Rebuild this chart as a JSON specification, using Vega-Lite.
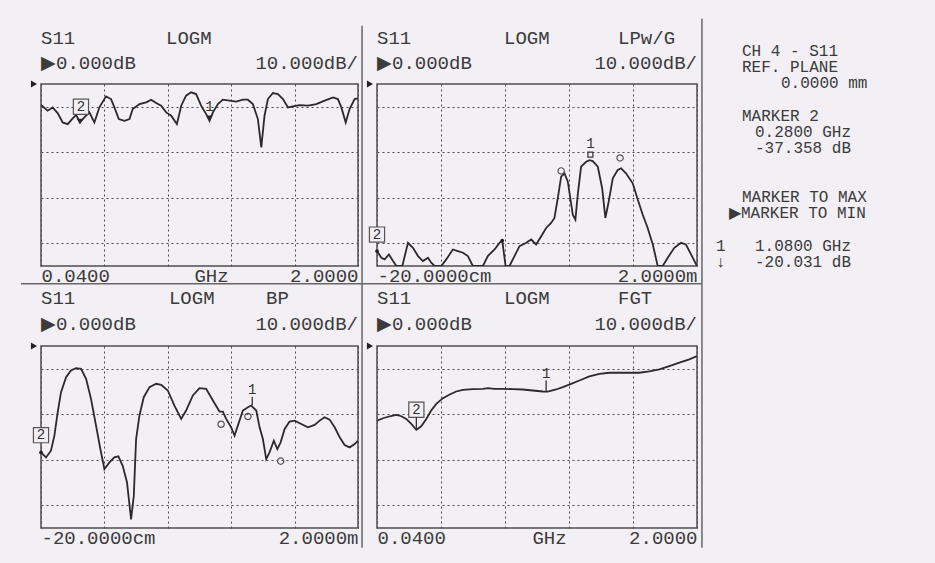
{
"$schema":"https://vega.github.io/schema/vega-lite/v6.json",
"background":"#f2eff5",
"padding":{"left":19,"top":17,"right":30,"bottom":20},
"config":{
 "view":{"stroke":"#4f4f4f","strokeWidth":1.5},
 "axis":{"domain":false,"ticks":false,"tickSize":0,"gridColor":"#4a4a4a","gridDash":[2,3],"gridWidth":1,"labelFont":"Liberation Mono","labelFontSize":19,"labelColor":"#3b3b3b","titleFont":"Liberation Mono","titleFontSize":19,"titleFontWeight":"normal","titleColor":"#3b3b3b","labelOverlap":false,"labelFlush":true,"labelBaseline":"alphabetic","labelPadding":15},
 "text":{"font":"Liberation Mono","fontSize":19,"color":"#3b3b3b","baseline":"middle"}
},
"datasets":{
 "p1":[{"freq_ghz":0.040,"s11_db":-9.25},{"freq_ghz":0.081,"s11_db":-11.75},{"freq_ghz":0.112,"s11_db":-10.28},{"freq_ghz":0.143,"s11_db":-12.78},{"freq_ghz":0.174,"s11_db":-16.89},{"freq_ghz":0.205,"s11_db":-17.62},{"freq_ghz":0.236,"s11_db":-15.12},{"freq_ghz":0.257,"s11_db":-13.66},{"freq_ghz":0.281,"s11_db":-16.89},{"freq_ghz":0.308,"s11_db":-14.68},{"freq_ghz":0.339,"s11_db":-12.48},{"freq_ghz":0.370,"s11_db":-16.89},{"freq_ghz":0.401,"s11_db":-10.28},{"freq_ghz":0.442,"s11_db":-5.43},{"freq_ghz":0.473,"s11_db":-6.61},{"freq_ghz":0.494,"s11_db":-10.28},{"freq_ghz":0.521,"s11_db":-15.42},{"freq_ghz":0.556,"s11_db":-16.15},{"freq_ghz":0.587,"s11_db":-15.42},{"freq_ghz":0.607,"s11_db":-11.01},{"freq_ghz":0.649,"s11_db":-8.81},{"freq_ghz":0.690,"s11_db":-8.08},{"freq_ghz":0.721,"s11_db":-6.90},{"freq_ghz":0.752,"s11_db":-8.37},{"freq_ghz":0.783,"s11_db":-9.54},{"freq_ghz":0.814,"s11_db":-12.48},{"freq_ghz":0.845,"s11_db":-13.95},{"freq_ghz":0.880,"s11_db":-17.62},{"freq_ghz":0.907,"s11_db":-9.54},{"freq_ghz":0.937,"s11_db":-5.14},{"freq_ghz":0.968,"s11_db":-3.67},{"freq_ghz":0.999,"s11_db":-4.41},{"freq_ghz":1.030,"s11_db":-9.54},{"freq_ghz":1.061,"s11_db":-13.22},{"freq_ghz":1.082,"s11_db":-16.15},{"freq_ghz":1.103,"s11_db":-12.48},{"freq_ghz":1.134,"s11_db":-8.81},{"freq_ghz":1.164,"s11_db":-6.90},{"freq_ghz":1.206,"s11_db":-7.34},{"freq_ghz":1.247,"s11_db":-7.78},{"freq_ghz":1.288,"s11_db":-6.90},{"freq_ghz":1.319,"s11_db":-6.90},{"freq_ghz":1.350,"s11_db":-8.81},{"freq_ghz":1.381,"s11_db":-15.42},{"freq_ghz":1.402,"s11_db":-27.90},{"freq_ghz":1.422,"s11_db":-13.95},{"freq_ghz":1.443,"s11_db":-6.61},{"freq_ghz":1.474,"s11_db":-3.96},{"freq_ghz":1.505,"s11_db":-4.41},{"freq_ghz":1.536,"s11_db":-6.61},{"freq_ghz":1.567,"s11_db":-10.28},{"freq_ghz":1.598,"s11_db":-9.84},{"freq_ghz":1.639,"s11_db":-9.25},{"freq_ghz":1.691,"s11_db":-9.54},{"freq_ghz":1.742,"s11_db":-8.81},{"freq_ghz":1.794,"s11_db":-7.34},{"freq_ghz":1.845,"s11_db":-5.87},{"freq_ghz":1.876,"s11_db":-6.61},{"freq_ghz":1.897,"s11_db":-10.28},{"freq_ghz":1.924,"s11_db":-16.89},{"freq_ghz":1.948,"s11_db":-11.01},{"freq_ghz":1.979,"s11_db":-6.61},{"freq_ghz":2.000,"s11_db":-6.31}],
 "p2":[{"dist_m":-0.200,"s11_db":-73.45},{"dist_m":-0.170,"s11_db":-76.36},{"dist_m":-0.147,"s11_db":-77.09},{"dist_m":-0.118,"s11_db":-74.91},{"dist_m":-0.090,"s11_db":-77.82},{"dist_m":-0.067,"s11_db":-80},{"dist_m":-0.026,"s11_db":-80},{"dist_m":0.013,"s11_db":-69.82},{"dist_m":0.047,"s11_db":-72.0},{"dist_m":0.082,"s11_db":-75.64},{"dist_m":0.116,"s11_db":-77.82},{"dist_m":0.150,"s11_db":-76.36},{"dist_m":0.173,"s11_db":-78.55},{"dist_m":0.196,"s11_db":-80},{"dist_m":0.242,"s11_db":-80},{"dist_m":0.276,"s11_db":-77.09},{"dist_m":0.322,"s11_db":-72.73},{"dist_m":0.356,"s11_db":-73.45},{"dist_m":0.391,"s11_db":-74.18},{"dist_m":0.425,"s11_db":-75.64},{"dist_m":0.459,"s11_db":-80},{"dist_m":0.528,"s11_db":-80},{"dist_m":0.562,"s11_db":-75.64},{"dist_m":0.608,"s11_db":-72.73},{"dist_m":0.642,"s11_db":-69.82},{"dist_m":0.661,"s11_db":-68.8},{"dist_m":0.684,"s11_db":-80},{"dist_m":0.711,"s11_db":-80},{"dist_m":0.745,"s11_db":-75.64},{"dist_m":0.780,"s11_db":-71.27},{"dist_m":0.826,"s11_db":-69.82},{"dist_m":0.860,"s11_db":-68.36},{"dist_m":0.894,"s11_db":-70.55},{"dist_m":0.929,"s11_db":-66.91},{"dist_m":0.963,"s11_db":-63.27},{"dist_m":0.997,"s11_db":-61.09},{"dist_m":1.020,"s11_db":-58.91},{"dist_m":1.043,"s11_db":-50.18},{"dist_m":1.066,"s11_db":-40.73},{"dist_m":1.089,"s11_db":-39.27},{"dist_m":1.112,"s11_db":-42.91},{"dist_m":1.146,"s11_db":-57.45},{"dist_m":1.164,"s11_db":-59.64},{"dist_m":1.180,"s11_db":-48.73},{"dist_m":1.203,"s11_db":-36.36},{"dist_m":1.238,"s11_db":-34.18},{"dist_m":1.261,"s11_db":-33.45},{"dist_m":1.283,"s11_db":-33.89},{"dist_m":1.318,"s11_db":-36.36},{"dist_m":1.348,"s11_db":-45.82},{"dist_m":1.370,"s11_db":-58.91},{"dist_m":1.393,"s11_db":-51.64},{"dist_m":1.421,"s11_db":-41.45},{"dist_m":1.455,"s11_db":-37.82},{"dist_m":1.478,"s11_db":-37.09},{"dist_m":1.512,"s11_db":-39.27},{"dist_m":1.558,"s11_db":-43.64},{"dist_m":1.593,"s11_db":-50.91},{"dist_m":1.627,"s11_db":-57.45},{"dist_m":1.661,"s11_db":-63.27},{"dist_m":1.696,"s11_db":-70.55},{"dist_m":1.730,"s11_db":-80},{"dist_m":1.764,"s11_db":-80},{"dist_m":1.799,"s11_db":-76.36},{"dist_m":1.844,"s11_db":-72.0},{"dist_m":1.890,"s11_db":-69.82},{"dist_m":1.924,"s11_db":-70.55},{"dist_m":1.959,"s11_db":-74.91},{"dist_m":2.000,"s11_db":-80}],
 "p3":[{"dist_m":-0.200,"s11_db":-46.76},{"dist_m":-0.165,"s11_db":-48.97},{"dist_m":-0.131,"s11_db":-46.03},{"dist_m":-0.107,"s11_db":-39.41},{"dist_m":-0.084,"s11_db":-29.12},{"dist_m":-0.061,"s11_db":-20.29},{"dist_m":-0.026,"s11_db":-13.68},{"dist_m":0.008,"s11_db":-10.74},{"dist_m":0.043,"s11_db":-9.71},{"dist_m":0.078,"s11_db":-10.0},{"dist_m":0.113,"s11_db":-14.41},{"dist_m":0.147,"s11_db":-23.24},{"dist_m":0.182,"s11_db":-35.0},{"dist_m":0.212,"s11_db":-45.29},{"dist_m":0.240,"s11_db":-54.12},{"dist_m":0.275,"s11_db":-51.18},{"dist_m":0.309,"s11_db":-48.97},{"dist_m":0.337,"s11_db":-48.53},{"dist_m":0.367,"s11_db":-52.65},{"dist_m":0.397,"s11_db":-60.0},{"dist_m":0.425,"s11_db":-76.18},{"dist_m":0.444,"s11_db":-65.88},{"dist_m":0.460,"s11_db":-40.88},{"dist_m":0.483,"s11_db":-30.59},{"dist_m":0.513,"s11_db":-22.5},{"dist_m":0.553,"s11_db":-18.09},{"dist_m":0.599,"s11_db":-16.62},{"dist_m":0.634,"s11_db":-17.06},{"dist_m":0.680,"s11_db":-19.56},{"dist_m":0.726,"s11_db":-26.18},{"dist_m":0.773,"s11_db":-32.06},{"dist_m":0.807,"s11_db":-28.38},{"dist_m":0.854,"s11_db":-21.76},{"dist_m":0.900,"s11_db":-18.53},{"dist_m":0.946,"s11_db":-18.82},{"dist_m":0.993,"s11_db":-23.97},{"dist_m":1.039,"s11_db":-28.82},{"dist_m":1.062,"s11_db":-28.82},{"dist_m":1.085,"s11_db":-32.06},{"dist_m":1.120,"s11_db":-35.74},{"dist_m":1.143,"s11_db":-39.41},{"dist_m":1.166,"s11_db":-35.0},{"dist_m":1.201,"s11_db":-28.38},{"dist_m":1.236,"s11_db":-26.91},{"dist_m":1.259,"s11_db":-26.18},{"dist_m":1.294,"s11_db":-28.38},{"dist_m":1.317,"s11_db":-35.74},{"dist_m":1.340,"s11_db":-40.88},{"dist_m":1.363,"s11_db":-49.71},{"dist_m":1.386,"s11_db":-46.76},{"dist_m":1.416,"s11_db":-41.62},{"dist_m":1.440,"s11_db":-45.29},{"dist_m":1.463,"s11_db":-42.35},{"dist_m":1.491,"s11_db":-36.47},{"dist_m":1.525,"s11_db":-33.24},{"dist_m":1.560,"s11_db":-32.79},{"dist_m":1.606,"s11_db":-34.26},{"dist_m":1.653,"s11_db":-35.74},{"dist_m":1.699,"s11_db":-34.71},{"dist_m":1.734,"s11_db":-32.79},{"dist_m":1.768,"s11_db":-31.32},{"dist_m":1.803,"s11_db":-32.35},{"dist_m":1.838,"s11_db":-35.74},{"dist_m":1.873,"s11_db":-40.15},{"dist_m":1.907,"s11_db":-43.53},{"dist_m":1.942,"s11_db":-44.56},{"dist_m":1.977,"s11_db":-43.09},{"dist_m":2.000,"s11_db":-41.62}],
 "p4":[{"freq_ghz":0.040,"s11_db":-32.79},{"freq_ghz":0.077,"s11_db":-31.76},{"freq_ghz":0.118,"s11_db":-30.88},{"freq_ghz":0.158,"s11_db":-30.29},{"freq_ghz":0.189,"s11_db":-30.88},{"freq_ghz":0.219,"s11_db":-32.06},{"freq_ghz":0.250,"s11_db":-34.26},{"freq_ghz":0.281,"s11_db":-36.8},{"freq_ghz":0.311,"s11_db":-35.29},{"freq_ghz":0.342,"s11_db":-32.06},{"freq_ghz":0.372,"s11_db":-28.38},{"freq_ghz":0.403,"s11_db":-25.44},{"freq_ghz":0.444,"s11_db":-22.94},{"freq_ghz":0.485,"s11_db":-21.32},{"freq_ghz":0.525,"s11_db":-20.0},{"freq_ghz":0.566,"s11_db":-19.26},{"freq_ghz":0.627,"s11_db":-18.97},{"freq_ghz":0.689,"s11_db":-18.82},{"freq_ghz":0.719,"s11_db":-18.53},{"freq_ghz":0.760,"s11_db":-18.82},{"freq_ghz":0.811,"s11_db":-18.82},{"freq_ghz":0.872,"s11_db":-18.97},{"freq_ghz":0.933,"s11_db":-19.12},{"freq_ghz":0.994,"s11_db":-19.56},{"freq_ghz":1.056,"s11_db":-20.0},{"freq_ghz":1.086,"s11_db":-20.03},{"freq_ghz":1.137,"s11_db":-19.12},{"freq_ghz":1.178,"s11_db":-18.09},{"freq_ghz":1.229,"s11_db":-16.62},{"freq_ghz":1.280,"s11_db":-15.15},{"freq_ghz":1.341,"s11_db":-13.38},{"freq_ghz":1.402,"s11_db":-12.21},{"freq_ghz":1.464,"s11_db":-11.76},{"freq_ghz":1.525,"s11_db":-11.76},{"freq_ghz":1.586,"s11_db":-11.76},{"freq_ghz":1.647,"s11_db":-11.76},{"freq_ghz":1.708,"s11_db":-11.18},{"freq_ghz":1.769,"s11_db":-10.29},{"freq_ghz":1.831,"s11_db":-8.82},{"freq_ghz":1.892,"s11_db":-7.35},{"freq_ghz":1.953,"s11_db":-5.88},{"freq_ghz":2.000,"s11_db":-4.41}],
 "info":[{"row":0,"col":2,"text":"CH 4 - S11"},{"row":1,"col":2,"text":"REF. PLANE"},{"row":2,"col":5,"text":"0.0000 mm"},{"row":4,"col":2,"text":"MARKER 2"},{"row":5,"col":3,"text":"0.2800 GHz"},{"row":6,"col":3,"text":"-37.358 dB"},{"row":9,"col":2,"text":"MARKER TO MAX"},{"row":10,"col":1,"text":"▶MARKER TO MIN"},{"row":12,"col":0,"text":"1"},{"row":12,"col":3,"text":"1.0800 GHz"},{"row":13,"col":0,"text":"↓"},{"row":13,"col":3,"text":"-20.031 dB"}]
},
"bounds":"flush",
"align":"each",
"columns":3,
"spacing":{"row":80,"column":19},
"concat":[
   {"width":317,"height":182,"layer":[
    {"data":{"name":"p1"},"mark":{"type":"line","color":"#2a2a2a","strokeWidth":1.8,"clip":true},
     "encoding":{"x":{"field":"freq_ghz","type":"quantitative","scale":{"domain":[0.04,2.0],"nice":false,"zero":false},
       "axis":{"values":[0.04,0.432,0.824,1.216,1.608,2.0],"grid":true,"labelExpr":"datum.value < 0.1 ? '0.0400' : datum.value > 1.9 ? '2.0000' : ''","title":"GHz","titleX":170,"titleY":15,"titleBaseline":"alphabetic","titleAlign":"center"}},
      "y":{"field":"s11_db","type":"quantitative","scale":{"domain":[-80,0],"nice":false,"zero":false},"axis":{"values":[-70,-60,-50,-40,-30,-20,-10],"grid":true,"labels":false,"title":null}}}},
    {"data":{"values":[{"freq_ghz":0.287,"s11_db":-10}]},"mark":{"type":"point","shape":"square","size":230,"filled":true,"fill":"#f2eff5","stroke":"#555555","strokeWidth":1.2,"opacity":1},"encoding":{"x":{"field":"freq_ghz","type":"quantitative"},"y":{"field":"s11_db","type":"quantitative"}}},
    {"data":{"values":[{"freq_ghz":0.287,"s11_db":-10,"m":"2"},{"freq_ghz":1.082,"s11_db":-10.3,"m":"1"}]},"mark":{"type":"text","align":"center","fontSize":14,"color":"#333333"},"encoding":{"x":{"field":"freq_ghz","type":"quantitative"},"y":{"field":"s11_db","type":"quantitative"},"text":{"field":"m"}}},
    {"data":{"values":[{"freq_ghz":0.281,"s11_db":-16.5},{"freq_ghz":1.082,"s11_db":-15.0}]},"mark":{"type":"point","shape":"triangle-down","size":40,"filled":true,"color":"#2a2a2a","opacity":1},"encoding":{"x":{"field":"freq_ghz","type":"quantitative"},"y":{"field":"s11_db","type":"quantitative"}}},
    {"data":{"values":[{"t":"S11"}]},"mark":{"type":"text","align":"left"},"encoding":{"x":{"datum":0.04,"type":"quantitative"},"y":{"datum":20.35,"type":"quantitative"},"text":{"field":"t"}}},
    {"data":{"values":[{"t":"LOGM"}]},"mark":{"type":"text","align":"left"},"encoding":{"x":{"datum":0.813,"type":"quantitative"},"y":{"datum":20.35,"type":"quantitative"},"text":{"field":"t"}}},
    {"data":{"values":[{"t":"▶0.000dB"}]},"mark":{"type":"text","align":"left"},"encoding":{"x":{"datum":0.04,"type":"quantitative"},"y":{"datum":9.36,"type":"quantitative"},"text":{"field":"t"}}},
    {"data":{"values":[{"t":"10.000dB/"}]},"mark":{"type":"text","align":"right"},"encoding":{"x":{"datum":2.0,"type":"quantitative"},"y":{"datum":9.36,"type":"quantitative"},"text":{"field":"t"}}},
    {"data":{"values":[{}]},"mark":{"type":"point","shape":"triangle-right","size":50,"filled":true,"color":"#222222","opacity":1,"xOffset":-7},"encoding":{"x":{"datum":0.04,"type":"quantitative"},"y":{"datum":0,"type":"quantitative"}}},
    {"data":{"values":[{}]},"mark":{"type":"rule","color":"#666666","strokeWidth":1.5},"encoding":{"x":{"datum":2.025,"type":"quantitative"},"y":{"datum":25.6,"type":"quantitative"},"y2":{"datum":-203.8}}},
    {"data":{"values":[{}]},"mark":{"type":"rule","color":"#666666","strokeWidth":1.5},"encoding":{"x":{"datum":-0.0837,"type":"quantitative"},"x2":{"datum":4.127},"y":{"datum":-87.78,"type":"quantitative"}}}
   ]},
   {"width":320,"height":182,"layer":[
    {"data":{"name":"p2"},"mark":{"type":"line","color":"#2a2a2a","strokeWidth":1.8,"clip":true},
     "encoding":{"x":{"field":"dist_m","type":"quantitative","scale":{"domain":[-0.2,2.0],"nice":false,"zero":false},
       "axis":{"values":[-0.2,0.24,0.68,1.12,1.56,2.0],"grid":true,"labelExpr":"datum.value < 0 ? '-20.0000cm' : datum.value > 1.9 ? '2.0000m' : ''","title":null}},
      "y":{"field":"s11_db","type":"quantitative","scale":{"domain":[-80,0],"nice":false,"zero":false},"axis":{"values":[-70,-60,-50,-40,-30,-20,-10],"grid":true,"labels":false,"title":null}}}},
    {"data":{"values":[{"dist_m":-0.2,"s11_db":-66.2}]},"mark":{"type":"point","shape":"square","size":230,"filled":true,"fill":"#f2eff5","stroke":"#555555","strokeWidth":1.2,"opacity":1},"encoding":{"x":{"field":"dist_m","type":"quantitative"},"y":{"field":"s11_db","type":"quantitative"}}},
    {"data":{"values":[{"dist_m":-0.2,"s11_db":-66.2,"m":"2"},{"dist_m":1.267,"s11_db":-26.2,"m":"1"}]},"mark":{"type":"text","align":"center","fontSize":14,"color":"#333333"},"encoding":{"x":{"field":"dist_m","type":"quantitative"},"y":{"field":"s11_db","type":"quantitative"},"text":{"field":"m"}}},
    {"data":{"values":[{"dist_m":1.267,"s11_db":-31.0}]},"mark":{"type":"point","shape":"square","size":25,"filled":false,"color":"#333333","strokeWidth":1.2,"opacity":1},"encoding":{"x":{"field":"dist_m","type":"quantitative"},"y":{"field":"s11_db","type":"quantitative"}}},
    {"data":{"values":[{"dist_m":1.066,"s11_db":-38.2},{"dist_m":1.471,"s11_db":-32.5}]},"mark":{"type":"point","shape":"circle","size":40,"filled":false,"color":"#555555","strokeWidth":1.2,"opacity":1},"encoding":{"x":{"field":"dist_m","type":"quantitative"},"y":{"field":"s11_db","type":"quantitative"}}},
    {"data":{"values":[{"dist_m":-0.2,"s11_db":-73.45},{"dist_m":0.661,"s11_db":-68.8}]},"mark":{"type":"point","shape":"circle","size":14,"filled":true,"color":"#222222","opacity":1},"encoding":{"x":{"field":"dist_m","type":"quantitative"},"y":{"field":"s11_db","type":"quantitative"}}},
    {"data":{"values":[{"t":"S11"}]},"mark":{"type":"text","align":"left"},"encoding":{"x":{"datum":-0.2,"type":"quantitative"},"y":{"datum":20.35,"type":"quantitative"},"text":{"field":"t"}}},
    {"data":{"values":[{"t":"LOGM"}]},"mark":{"type":"text","align":"left"},"encoding":{"x":{"datum":0.673,"type":"quantitative"},"y":{"datum":20.35,"type":"quantitative"},"text":{"field":"t"}}},
    {"data":{"values":[{"t":"LPw/G"}]},"mark":{"type":"text","align":"left"},"encoding":{"x":{"datum":1.457,"type":"quantitative"},"y":{"datum":20.35,"type":"quantitative"},"text":{"field":"t"}}},
    {"data":{"values":[{"t":"▶0.000dB"}]},"mark":{"type":"text","align":"left"},"encoding":{"x":{"datum":-0.2,"type":"quantitative"},"y":{"datum":9.36,"type":"quantitative"},"text":{"field":"t"}}},
    {"data":{"values":[{"t":"10.000dB/"}]},"mark":{"type":"text","align":"right"},"encoding":{"x":{"datum":2.0,"type":"quantitative"},"y":{"datum":9.36,"type":"quantitative"},"text":{"field":"t"}}},
    {"data":{"values":[{}]},"mark":{"type":"point","shape":"triangle-right","size":50,"filled":true,"color":"#222222","opacity":1,"xOffset":-7},"encoding":{"x":{"datum":-0.2,"type":"quantitative"},"y":{"datum":0,"type":"quantitative"}}},
    {"data":{"values":[{}]},"mark":{"type":"rule","color":"#666666","strokeWidth":1.5},"encoding":{"x":{"datum":2.034,"type":"quantitative"},"y":{"datum":28.7,"type":"quantitative"},"y2":{"datum":-203.8}}}
   ]},
   {"width":200,"height":182,"view":{"stroke":null},"data":{"name":"info"},
    "mark":{"type":"text","align":"left","fontSize":16},
    "encoding":{"x":{"field":"col","type":"quantitative","scale":{"domain":[0,15.385],"nice":false,"zero":false},"axis":null},
     "y":{"field":"row","type":"quantitative","scale":{"domain":[2.05,13.26],"reverse":true,"nice":false,"zero":false},"axis":null},
     "text":{"field":"text"}}},
   {"width":317,"height":182,"layer":[
    {"data":{"name":"p3"},"mark":{"type":"line","color":"#2a2a2a","strokeWidth":1.8,"clip":true},
     "encoding":{"x":{"field":"dist_m","type":"quantitative","scale":{"domain":[-0.2,2.0],"nice":false,"zero":false},
       "axis":{"values":[-0.2,0.24,0.68,1.12,1.56,2.0],"grid":true,"labelExpr":"datum.value < 0 ? '-20.0000cm' : datum.value > 1.9 ? '2.0000m' : ''","title":null}},
      "y":{"field":"s11_db","type":"quantitative","scale":{"domain":[-80,0],"nice":false,"zero":false},"axis":{"values":[-70,-60,-50,-40,-30,-20,-10],"grid":true,"labels":false,"title":null}}}},
    {"data":{"values":[{"dist_m":-0.2,"s11_db":-39.2}]},"mark":{"type":"point","shape":"square","size":230,"filled":true,"fill":"#f2eff5","stroke":"#555555","strokeWidth":1.2,"opacity":1},"encoding":{"x":{"field":"dist_m","type":"quantitative"},"y":{"field":"s11_db","type":"quantitative"}}},
    {"data":{"values":[{"dist_m":-0.2,"s11_db":-39.2,"m":"2"},{"dist_m":1.266,"s11_db":-19.2,"m":"1"}]},"mark":{"type":"text","align":"center","fontSize":14,"color":"#333333"},"encoding":{"x":{"field":"dist_m","type":"quantitative"},"y":{"field":"s11_db","type":"quantitative"},"text":{"field":"m"}}},
    {"data":{"values":[{"dist_m":1.266,"s11_db":-22.3,"s11_db_end":-26.0}]},"mark":{"type":"rule","color":"#333333","strokeWidth":1.3},"encoding":{"x":{"field":"dist_m","type":"quantitative"},"y":{"field":"s11_db","type":"quantitative"},"y2":{"field":"s11_db_end"}}},
    {"data":{"values":[{"dist_m":1.05,"s11_db":-34.4},{"dist_m":1.236,"s11_db":-31.0},{"dist_m":1.463,"s11_db":-50.6}]},"mark":{"type":"point","shape":"circle","size":40,"filled":false,"color":"#555555","strokeWidth":1.2,"opacity":1},"encoding":{"x":{"field":"dist_m","type":"quantitative"},"y":{"field":"s11_db","type":"quantitative"}}},
    {"data":{"values":[{"dist_m":-0.2,"s11_db":-46.8}]},"mark":{"type":"point","shape":"circle","size":14,"filled":true,"color":"#222222","opacity":1},"encoding":{"x":{"field":"dist_m","type":"quantitative"},"y":{"field":"s11_db","type":"quantitative"}}},
    {"data":{"values":[{"t":"S11"}]},"mark":{"type":"text","align":"left"},"encoding":{"x":{"datum":-0.2,"type":"quantitative"},"y":{"datum":21.2,"type":"quantitative"},"text":{"field":"t"}}},
    {"data":{"values":[{"t":"LOGM"}]},"mark":{"type":"text","align":"left"},"encoding":{"x":{"datum":0.688,"type":"quantitative"},"y":{"datum":21.2,"type":"quantitative"},"text":{"field":"t"}}},
    {"data":{"values":[{"t":"BP"}]},"mark":{"type":"text","align":"left"},"encoding":{"x":{"datum":1.362,"type":"quantitative"},"y":{"datum":21.2,"type":"quantitative"},"text":{"field":"t"}}},
    {"data":{"values":[{"t":"▶0.000dB"}]},"mark":{"type":"text","align":"left"},"encoding":{"x":{"datum":-0.2,"type":"quantitative"},"y":{"datum":9.8,"type":"quantitative"},"text":{"field":"t"}}},
    {"data":{"values":[{"t":"10.000dB/"}]},"mark":{"type":"text","align":"right"},"encoding":{"x":{"datum":2.0,"type":"quantitative"},"y":{"datum":9.8,"type":"quantitative"},"text":{"field":"t"}}},
    {"data":{"values":[{}]},"mark":{"type":"point","shape":"triangle-right","size":50,"filled":true,"color":"#222222","opacity":1,"xOffset":-7},"encoding":{"x":{"datum":-0.2,"type":"quantitative"},"y":{"datum":0,"type":"quantitative"}}}
   ]},
   {"width":320,"height":182,"layer":[
    {"data":{"name":"p4"},"mark":{"type":"line","color":"#2a2a2a","strokeWidth":1.8,"clip":true},
     "encoding":{"x":{"field":"freq_ghz","type":"quantitative","scale":{"domain":[0.04,2.0],"nice":false,"zero":false},
       "axis":{"values":[0.04,0.432,0.824,1.216,1.608,2.0],"grid":true,"labelExpr":"datum.value < 0.1 ? '0.0400' : datum.value > 1.9 ? '2.0000' : ''","title":"GHz","titleX":172,"titleY":15,"titleBaseline":"alphabetic","titleAlign":"center"}},
      "y":{"field":"s11_db","type":"quantitative","scale":{"domain":[-80,0],"nice":false,"zero":false},"axis":{"values":[-70,-60,-50,-40,-30,-20,-10],"grid":true,"labels":false,"title":null}}}},
    {"data":{"values":[{"freq_ghz":0.281,"s11_db":-28.0}]},"mark":{"type":"point","shape":"square","size":230,"filled":true,"fill":"#f2eff5","stroke":"#555555","strokeWidth":1.2,"opacity":1},"encoding":{"x":{"field":"freq_ghz","type":"quantitative"},"y":{"field":"s11_db","type":"quantitative"}}},
    {"data":{"values":[{"freq_ghz":0.281,"s11_db":-28.0,"m":"2"},{"freq_ghz":1.076,"s11_db":-12.3,"m":"1"}]},"mark":{"type":"text","align":"center","fontSize":14,"color":"#333333"},"encoding":{"x":{"field":"freq_ghz","type":"quantitative"},"y":{"field":"s11_db","type":"quantitative"},"text":{"field":"m"}}},
    {"data":{"values":[{"freq_ghz":0.281,"s11_db":-31.2,"s11_db_end":-36.5},{"freq_ghz":1.076,"s11_db":-15.0,"s11_db_end":-19.8}]},"mark":{"type":"rule","color":"#333333","strokeWidth":1.3},"encoding":{"x":{"field":"freq_ghz","type":"quantitative"},"y":{"field":"s11_db","type":"quantitative"},"y2":{"field":"s11_db_end"}}},
    {"data":{"values":[{"t":"S11"}]},"mark":{"type":"text","align":"left"},"encoding":{"x":{"datum":0.04,"type":"quantitative"},"y":{"datum":21.2,"type":"quantitative"},"text":{"field":"t"}}},
    {"data":{"values":[{"t":"LOGM"}]},"mark":{"type":"text","align":"left"},"encoding":{"x":{"datum":0.818,"type":"quantitative"},"y":{"datum":21.2,"type":"quantitative"},"text":{"field":"t"}}},
    {"data":{"values":[{"t":"FGT"}]},"mark":{"type":"text","align":"left"},"encoding":{"x":{"datum":1.516,"type":"quantitative"},"y":{"datum":21.2,"type":"quantitative"},"text":{"field":"t"}}},
    {"data":{"values":[{"t":"▶0.000dB"}]},"mark":{"type":"text","align":"left"},"encoding":{"x":{"datum":0.04,"type":"quantitative"},"y":{"datum":9.8,"type":"quantitative"},"text":{"field":"t"}}},
    {"data":{"values":[{"t":"10.000dB/"}]},"mark":{"type":"text","align":"right"},"encoding":{"x":{"datum":2.0,"type":"quantitative"},"y":{"datum":9.8,"type":"quantitative"},"text":{"field":"t"}}},
    {"data":{"values":[{}]},"mark":{"type":"point","shape":"triangle-right","size":50,"filled":true,"color":"#222222","opacity":1,"xOffset":-7},"encoding":{"x":{"datum":0.04,"type":"quantitative"},"y":{"datum":0,"type":"quantitative"}}}
   ]}
]
}
